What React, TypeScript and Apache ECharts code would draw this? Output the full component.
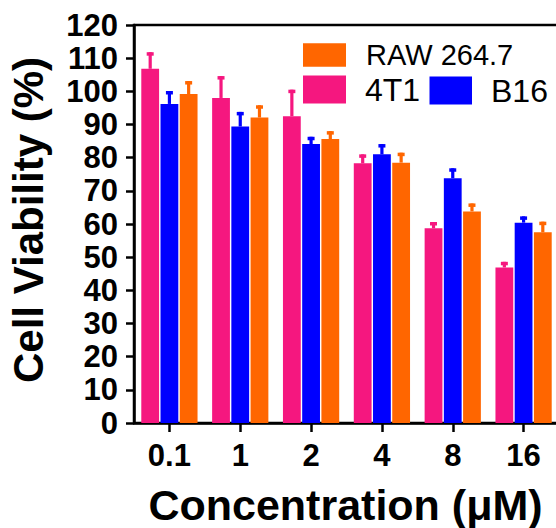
import React, { useEffect, useRef } from "react";
import * as echarts from "echarts";

const categories = ["0.1", "1", "2", "4", "8", "16"];
const seriesNames = ["4T1", "B16", "RAW 264.7"];
const mean4T1 = [106.8, 98.0, 92.5, 78.3, 58.7, 46.9];
const sd4T1 = [5.0, 6.6, 8.0, 2.7, 1.9, 1.7];
const meanB16 = [96.2, 89.4, 84.1, 81.0, 73.8, 60.4];
const sdB16 = [3.9, 4.4, 2.2, 3.1, 3.0, 1.9];
const meanRAW = [99.2, 92.1, 85.6, 78.5, 63.8, 57.5];
const sdRAW = [3.9, 3.7, 2.4, 3.0, 2.4, 3.2];
const yTicks = { min: 0, max: 120, interval: 10 };

const colors = ["#F5177F", "#0000FF", "#FF6600"];
const BAR_W = 17.8;
const BAR_GAP = 0.08;

export default function App() {
  const ref = useRef<HTMLDivElement>(null);
  useEffect(() => {
    if (!ref.current) return;
    const chart = echarts.init(ref.current, null, { renderer: "svg" });
    const means = [mean4T1, meanB16, meanRAW];
    const sds = [sd4T1, sdB16, sdRAW];
    const pitch = BAR_W * (1 + BAR_GAP);
    const tickFont = { fontFamily: "Liberation Sans", fontWeight: "bold" as const, fontSize: 31, color: "#000" };

    const barSeries = seriesNames.map((name, i) => ({
      name,
      type: "bar",
      data: means[i],
      barWidth: BAR_W,
      barGap: `${BAR_GAP * 100}%`,
      itemStyle: { color: colors[i] },
      z: 2,
    }));

    const errSeries = seriesNames.map((name, i) => ({
      name: name + " SD",
      type: "custom",
      z: 3,
      data: means[i].map((m, j) => [j, m, +(m + sds[i][j]).toFixed(2)]),
      encode: { x: 0, y: [1, 2] },
      renderItem: (params: any, api: any) => {
        const top = api.coord([api.value(0), api.value(2)]);
        const base = api.coord([api.value(0), api.value(1)]);
        const cx = top[0] + (i - 1) * pitch;
        return {
          type: "group",
          children: [
            { type: "rect", shape: { x: cx - 1.6, y: top[1], width: 3.2, height: base[1] - top[1] }, style: { fill: colors[i] } },
            { type: "rect", shape: { x: cx - 3.5, y: top[1], width: 7, height: 3.5 }, style: { fill: colors[i] } },
          ],
        };
      },
    }));

    const legendBase = {
      padding: 0,
      icon: "rect",
      selectedMode: false,
    };

    chart.setOption({
      animation: false,
      grid: {
        left: 134,
        top: 25,
        width: 425,
        height: 398,
        containLabel: false,
        outerBoundsMode: "none",
        show: true,
        borderColor: "#000",
        borderWidth: 2.5,
        backgroundColor: "transparent",
      },
      legend: [
        {
          ...legendBase,
          data: ["RAW 264.7"],
          left: 303,
          top: 40.5,
          itemWidth: 43,
          itemHeight: 23.5,
          textStyle: { fontFamily: "Liberation Sans", fontSize: 29, color: "#000", lineHeight: 24, padding: [0, 0, 0, 15] },
        },
        {
          ...legendBase,
          data: ["4T1"],
          left: 303,
          top: 73.5,
          itemWidth: 43,
          itemHeight: 28,
          textStyle: { fontFamily: "Liberation Sans", fontSize: 32, color: "#000", lineHeight: 28, padding: [0, 0, 0, 14] },
        },
        {
          ...legendBase,
          data: ["B16"],
          left: 429.5,
          top: 74.5,
          itemWidth: 42.5,
          itemHeight: 28,
          textStyle: { fontFamily: "Liberation Sans", fontSize: 32, color: "#000", lineHeight: 28, padding: [0, 0, 0, 14] },
        },
      ],
      xAxis: {
        type: "category",
        data: categories,
        axisLine: { lineStyle: { color: "#000", width: 2.5 } },
        axisTick: { show: true, alignWithLabel: true, length: 9, lineStyle: { color: "#000", width: 2.5 } },
        axisLabel: { ...tickFont, margin: 17, lineHeight: 31 },
        name: "Concentration (μM)",
        nameLocation: "middle",
        nameGap: 67,
        nameTextStyle: {
          fontFamily: "Liberation Sans",
          fontWeight: "bold",
          fontSize: 43,
          lineHeight: 30,
          color: "#000",
          padding: [0, 2, 0, 0],
        },
      },
      yAxis: {
        type: "value",
        min: yTicks.min,
        max: yTicks.max,
        interval: yTicks.interval,
        splitLine: { show: false },
        axisLine: { show: true, lineStyle: { color: "#000", width: 2.5 } },
        axisTick: { show: true, length: 8, lineStyle: { color: "#000", width: 2.5 } },
        axisLabel: { ...tickFont, margin: 16, lineHeight: 31 },
        name: "Cell Viability (%)",
        nameLocation: "middle",
        nameGap: 85,
        nameTextStyle: {
          fontFamily: "Liberation Sans",
          fontWeight: "bold",
          fontSize: 42,
          lineHeight: 42,
          color: "#000",
          padding: [0, 0, 0, 8],
        },
      },
      series: [...barSeries, ...errSeries],
    });
    return () => chart.dispose();
  }, []);
  return (
    <div
      ref={ref}
      style={{ position: "fixed", left: 0, top: 0, width: 556, height: 528, background: "#fff" }}
    />
  );
}
